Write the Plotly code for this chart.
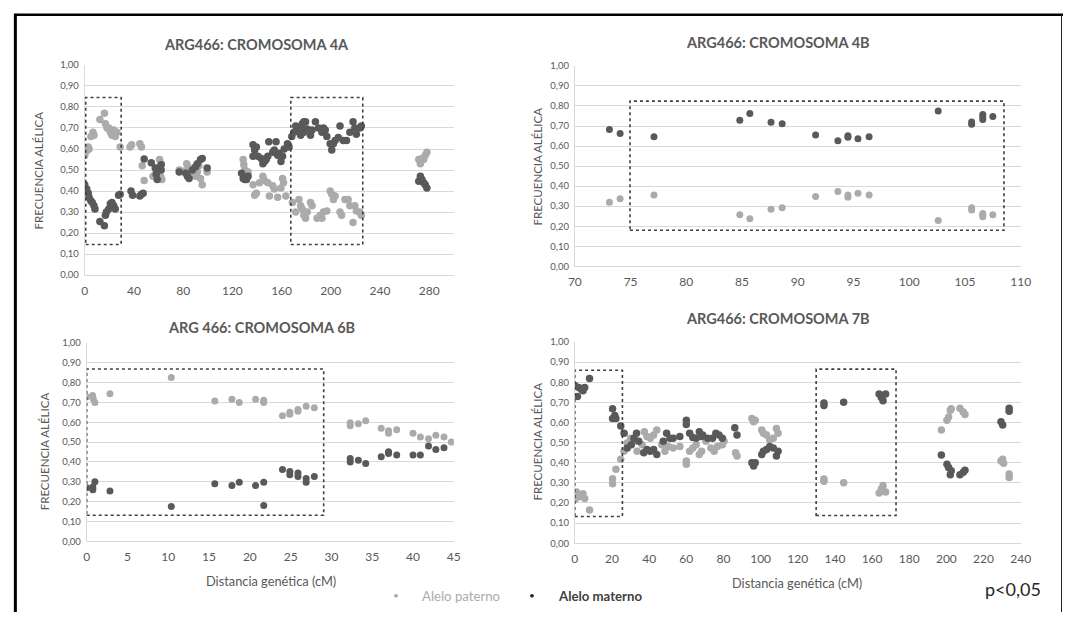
import plotly.graph_objects as go

W, H = 1073, 617

# ---------------- DATA ----------------
# Chromosome 4A
a4_pat_x = [0, 1.5, 2.9, 3.5, 5, 6.7, 7.5, 12.3, 16, 16.8, 18.1, 19.5, 20.8, 22.1, 23.5, 24.8, 26.1, 28.8,
            36.8, 38.1, 44.8, 46.1, 46.7, 48.3, 55.5, 58.1, 59.5, 60.8, 62.1, 62.7, 61.6,
            76.8, 80.8, 82.9, 84, 86.1, 87.5, 90.1, 91.5, 92.8, 94.1, 95.5, 99.5,
            128.8, 129.3, 130.1, 131.5, 132.8,
            136.8, 138.1, 139.5, 142.1, 144.8, 146.1, 148.8, 150.1, 152.8, 154.1, 156.8, 159.5, 160.8, 161.6, 163.5,
            168.8, 171.5, 174.1, 175.5, 176.8, 178.1, 179.5, 180.8, 183.5, 184.8, 188.8, 191.5, 192.8, 194.1, 196.8,
            199.5, 200.8, 203.5, 202.1, 207.5, 208.8, 211.5, 214.1, 215.5, 218.1, 219.5, 220.8, 223.5, 224.8,
            271.5, 272.8, 274.1, 275.5, 276.8, 278.1]
a4_pat_y = [0.57, 0.59, 0.61, 0.60, 0.66, 0.68, 0.665, 0.74, 0.77, 0.72, 0.70, 0.70, 0.68, 0.665, 0.69, 0.66, 0.68, 0.61,
            0.61, 0.62, 0.625, 0.61, 0.52, 0.45, 0.47, 0.49, 0.51, 0.55, 0.53, 0.455, 0.47,
            0.50, 0.495, 0.53, 0.515, 0.49, 0.50, 0.47, 0.49, 0.52, 0.46, 0.43, 0.49,
            0.55, 0.525, 0.50, 0.48, 0.49,
            0.43, 0.38, 0.39, 0.44, 0.47, 0.45, 0.44, 0.377, 0.425, 0.41, 0.37, 0.415, 0.46, 0.44, 0.377,
            0.345, 0.30, 0.36, 0.33, 0.315, 0.285, 0.27, 0.30, 0.345, 0.33, 0.27, 0.285, 0.27, 0.30, 0.305,
            0.40, 0.385, 0.377, 0.36, 0.30, 0.285, 0.36, 0.36, 0.33, 0.25, 0.33, 0.305, 0.30, 0.285,
            0.55, 0.53, 0.555, 0.55, 0.57, 0.585]
a4_mat_x = [0, 1.6, 2.9, 3.5, 4.8, 6.1, 7.5, 8.3, 12.3, 16, 16.8, 17.6, 19.5, 20.8, 22.1, 23.5, 24.8, 27.5, 28.8,
            37.6, 38.9, 44.8, 46.1, 47.5, 48.3, 54.1, 57.3, 58.1, 58.9, 62.1, 62.1,
            76.8, 82.1, 83.5, 84.8, 87.5, 90.1, 91.5, 94.1, 95.5, 99.5,
            127.5, 128.8, 130.1, 131.5, 132.8,
            136.8, 138.1, 139.5, 136.8, 140.8, 143.5, 144.8, 146.1, 147.5, 148.8, 149.6, 152.8, 154.1, 155.5, 156.8,
            158.1, 159.5, 160.8, 162.1, 164.8, 166.1,
            168.3, 170.1, 171.5, 174.1, 175.5, 176.8, 178.1, 179.5, 175.5, 178.1, 180.8, 183.5, 184.8, 187.5, 190.1,
            192.8, 194.1, 195.5, 196.8, 199.5, 200.8, 202.1, 203.5, 206.1, 207.5, 210.1, 212.8, 215.5, 218.1, 219.5,
            220.8, 223.5, 224.8,
            271.5, 272.8, 274.1, 275.5, 276.8, 278.1]
a4_mat_y = [0.43, 0.41, 0.39, 0.37, 0.355, 0.345, 0.33, 0.315, 0.255, 0.235, 0.285, 0.30, 0.315, 0.34, 0.345, 0.33, 0.315, 0.38, 0.385,
            0.40, 0.38, 0.377, 0.385, 0.39, 0.553, 0.535, 0.51, 0.48, 0.455, 0.525, 0.50,
            0.49, 0.485, 0.47, 0.46, 0.50, 0.515, 0.53, 0.55, 0.555, 0.51,
            0.485, 0.46, 0.455, 0.455, 0.47,
            0.62, 0.595, 0.61, 0.565, 0.565, 0.555, 0.53, 0.54, 0.55, 0.565, 0.635, 0.585, 0.595, 0.635, 0.57,
            0.58, 0.54, 0.565, 0.60, 0.625, 0.61,
            0.66, 0.68, 0.71, 0.69, 0.70, 0.72, 0.73, 0.73, 0.665, 0.68, 0.695, 0.665, 0.69, 0.73, 0.70,
            0.68, 0.70, 0.69, 0.66, 0.625, 0.595, 0.625, 0.64, 0.655, 0.71, 0.64, 0.64, 0.68, 0.73, 0.70,
            0.67, 0.70, 0.71,
            0.447, 0.47, 0.455, 0.44, 0.43, 0.415]

# Chromosome 4B
b4_x = [73.1, 74.06, 77.1, 84.8, 85.7, 87.6, 88.6, 91.6, 93.6, 94.5, 94.5, 95.4, 96.4, 102.6, 105.6, 105.6,
        106.6, 106.6, 106.6, 107.5]
b4_mat_y = [0.683, 0.663, 0.647, 0.729, 0.763, 0.719, 0.711, 0.655, 0.627, 0.652, 0.644, 0.636, 0.647, 0.775,
            0.72, 0.709, 0.757, 0.733, 0.745, 0.747]
b4_pat_y = [0.32, 0.337, 0.356, 0.257, 0.237, 0.284, 0.292, 0.348, 0.373, 0.356, 0.345, 0.364, 0.356, 0.229,
            0.292, 0.281, 0.263, 0.247, 0.255, 0.257]

# Chromosome 6B
b6_pat_x = [0, 0.72, 0.8, 1.0, 2.85, 10.37, 15.7, 17.8, 18.7, 20.7, 21.7, 21.7, 24.0, 24.9, 24.9, 25.9, 25.9,
            26.9, 27.9, 32.3, 32.3, 33.3, 34.2, 36.1, 37.0, 37.0, 38.0, 40.0, 40.9, 41.9, 42.8, 43.8, 44.7]
b6_pat_y = [0.727, 0.735, 0.719, 0.70, 0.744, 0.826, 0.707, 0.716, 0.70, 0.716, 0.711, 0.70, 0.633, 0.65, 0.64,
            0.664, 0.656, 0.681, 0.673, 0.598, 0.582, 0.592, 0.607, 0.57, 0.557, 0.545, 0.562, 0.545, 0.526,
            0.517, 0.534, 0.526, 0.50]
b6_mat_x = [0, 0.75, 0.75, 1.0, 2.85, 10.37, 15.7, 17.8, 18.7, 20.7, 21.7, 21.7, 24.0, 24.9, 24.9, 25.9, 25.9,
            26.9, 26.9, 27.9, 32.3, 32.3, 33.3, 34.2, 36.1, 37.0, 37.0, 38.0, 40.0, 40.9, 41.9, 42.8, 43.8]
b6_mat_y = [0.27, 0.273, 0.26, 0.30, 0.253, 0.175, 0.29, 0.281, 0.298, 0.281, 0.298, 0.18, 0.362, 0.352, 0.335,
            0.344, 0.327, 0.317, 0.298, 0.326, 0.417, 0.40, 0.408, 0.392, 0.426, 0.451, 0.443, 0.435, 0.435,
            0.435, 0.48, 0.463, 0.471]

# Chromosome 7B
b7_mat_x = [0, 1.4, 2.1, 3.5, 4.4, 5.3, 7.9, 20.3, 20.3, 21.5, 22.1, 24.7, 26.5,
            28.2, 30.4, 31.8, 33.2, 34.4, 37.1, 38.8, 40.6, 42.4, 44.1, 47.6, 49.4, 51.2, 52.9, 56.5, 60, 60,
            61.8, 63.5, 65.3, 67, 68.2, 68.8, 71.5, 74.1, 75.9, 77.6, 79.4, 86.1, 87.3, 95.3, 96.2, 97.1,
            100.6, 101.5, 103.2, 104.9, 106.8, 108.5, 109.4,
            134.1, 134.1, 144.7, 163.8, 165, 165.9, 167.3,
            197.3, 200.3, 201.2, 202.1, 202.6, 207.3, 209.1, 210, 229.4, 230.3, 233.8, 233.8]
b7_mat_y = [0.784, 0.729, 0.773, 0.765, 0.757, 0.773, 0.818, 0.668, 0.619, 0.635, 0.619, 0.582, 0.546,
            0.473, 0.489, 0.522, 0.546, 0.506, 0.449, 0.465, 0.457, 0.465, 0.441, 0.506, 0.546, 0.522, 0.522,
            0.53, 0.611, 0.59, 0.546, 0.525, 0.522, 0.554, 0.53, 0.538, 0.522, 0.522, 0.546, 0.538, 0.522,
            0.574, 0.538, 0.40, 0.384, 0.40, 0.441, 0.457, 0.465, 0.481, 0.473, 0.433, 0.457,
            0.684, 0.697, 0.70, 0.741, 0.724, 0.708, 0.741,
            0.438, 0.392, 0.376, 0.34, 0.36, 0.34, 0.352, 0.363, 0.603, 0.587, 0.671, 0.655]
b7_pat_x = [0, 0.9, 1.8, 3.2, 4.4, 5.3, 7.9, 20.3, 20.3, 22.1, 24.7, 26.5,
            28.2, 30, 31.8, 33.5, 36.2, 37.4, 38.8, 40.6, 42.4, 44.1, 46.8, 48.5, 50.3, 52.9, 56.5, 60, 60,
            61.8, 63.5, 65.3, 67, 68.2, 70.6, 73.2, 75, 76.8, 79.4, 80.3, 86.5, 87.3, 95.3, 96.2, 97.1,
            100.6, 101.5, 103.2, 104.9, 106.8, 108.5, 109.4,
            134.1, 134.1, 144.7, 163.8, 165, 165.9, 167.3,
            197.3, 200.3, 201.2, 202.1, 202.6, 207.3, 209.1, 210, 229.4, 230.3, 230.8, 233.8, 233.8]
b7_pat_y = [0.217, 0.254, 0.23, 0.237, 0.246, 0.222, 0.165, 0.295, 0.32, 0.368, 0.417, 0.457,
            0.498, 0.522, 0.506, 0.457, 0.489, 0.554, 0.53, 0.522, 0.538, 0.562, 0.489, 0.457, 0.481, 0.473,
            0.481, 0.408, 0.392, 0.457, 0.473, 0.489, 0.441, 0.457, 0.506, 0.473, 0.457, 0.481, 0.489, 0.506,
            0.449, 0.433, 0.619, 0.603, 0.611, 0.562, 0.546, 0.538, 0.514, 0.522, 0.57, 0.546,
            0.319, 0.308, 0.30, 0.25, 0.27, 0.287, 0.254,
            0.562, 0.611, 0.627, 0.66, 0.668, 0.671, 0.652, 0.639, 0.408, 0.417, 0.397, 0.344, 0.327]

titles = ["ARG466: CROMOSOMA 4A", "ARG466: CROMOSOMA 4B", "ARG 466: CROMOSOMA 6B", "ARG466: CROMOSOMA 7B"]
y_ticks = [0.0, 0.1, 0.2, 0.3, 0.4, 0.5, 0.6, 0.7, 0.8, 0.9, 1.0]
x_ticks_4a = [0, 40, 80, 120, 160, 200, 240, 280]
x_ticks_4b = [70, 75, 80, 85, 90, 95, 100, 105, 110]
x_ticks_6b = [0, 5, 10, 15, 20, 25, 30, 35, 40, 45]
x_ticks_7b = [0, 20, 40, 60, 80, 100, 120, 140, 160, 180, 200, 220, 240]
# significance boxes (x0, x1, y0, y1) per panel
boxes_4a = [(0.8, 29.6, 0.146, 0.845), (167.5, 226, 0.146, 0.845)]
boxes_4b = [(74.95, 108.5, 0.18, 0.824)]
boxes_6b = [(0, 29.05, 0.131, 0.868)]
boxes_7b = [(0, 25.6, 0.133, 0.859), (129.9, 172.9, 0.138, 0.865)]

# ---------------- STYLE / LAYOUT ----------------
DARK = "#595959"
GREY = "#ababab"
TXT = "#595959"
FONT = "Lato"

def px_x(p):
    return p / W

def px_y(p):
    return 1 - p / H

# panels in pixel coordinates: (left, right, top, bottom)
panels = [(79, 454, 60, 274), (577, 1030, 61, 265), (81, 454, 343, 545), (577, 1030, 342, 547)]
xranges = [[0, 300], [70, 110], [0, 45], [0, 240]]
xticks = [x_ticks_4a, x_ticks_4b, x_ticks_6b, x_ticks_7b]
data = [(a4_pat_x, a4_pat_y, a4_mat_x, a4_mat_y),
        (b4_x, b4_pat_y, b4_x, b4_mat_y),
        (b6_pat_x, b6_pat_y, b6_mat_x, b6_mat_y),
        (b7_pat_x, b7_pat_y, b7_mat_x, b7_mat_y)]
boxes = [boxes_4a, boxes_4b, boxes_6b, boxes_7b]
msize = [7.5, 7, 7, 7.5]

fig = go.Figure()
layout = dict(width=W, height=H, margin=dict(l=0, r=0, t=0, b=0), paper_bgcolor="white",
              plot_bgcolor="white", separators=",.", showlegend=False,
              font=dict(family=FONT, color=TXT))
shapes = []
annotations = []

for i, (l, r, t, b) in enumerate(panels):
    n = "" if i == 0 else str(i + 1)
    xa, ya = "x" + n, "y" + n
    px, py, mx, my = data[i]
    fig.add_trace(go.Scatter(x=px, y=py, mode="markers", xaxis=xa, yaxis=ya, name="Alelo paterno",
                             marker=dict(color=GREY, size=msize[i], line=dict(width=0))))
    fig.add_trace(go.Scatter(x=mx, y=my, mode="markers", xaxis=xa, yaxis=ya, name="Alelo materno",
                             marker=dict(color=DARK, size=msize[i], line=dict(width=0))))
    layout["xaxis" + n] = dict(domain=[px_x(l), px_x(r)], range=xranges[i], anchor=ya,
                               tickvals=xticks[i], tickfont=dict(size=12, color=TXT),
                               showgrid=False, zeroline=False, showline=True, linecolor="#d9d9d9",
                               linewidth=1, ticks="", ticklabelstandoff=4)
    layout["yaxis" + n] = dict(domain=[px_y(b), px_y(t)], range=[0, 1.0], anchor=xa,
                               tickvals=y_ticks, tickformat=".2f", tickfont=dict(size=9.5, color=TXT),
                               showgrid=True, gridcolor="#d9d9d9", gridwidth=1, zeroline=False,
                               showline=True, linecolor="#d9d9d9", linewidth=1, ticks="",
                               ticklabelstandoff=3)
    for (x0, x1, y0, y1) in boxes[i]:
        shapes.append(dict(type="rect", xref=xa, yref=ya, x0=x0, x1=x1, y0=y0, y1=y1,
                           line=dict(color="#404040", width=1.6, dash="dot"), fillcolor="rgba(0,0,0,0)"))

# titles
title_pos = [(254, 39), (783, 37), (259, 327), (783, 318)]
for t, (x, y) in zip(titles, title_pos):
    annotations.append(dict(text="<b>%s</b>" % t, x=px_x(x), y=px_y(y), xref="paper", yref="paper",
                            showarrow=False, xanchor="center", yanchor="middle",
                            font=dict(size=14.5, color=TXT, family=FONT)))
# y-axis titles
ytitle_pos = [(32, 167), (539, 163), (39, 453), (539, 443)]
for (x, y) in ytitle_pos:
    annotations.append(dict(text="FRECUENCIA ALÉLICA", x=px_x(x), y=px_y(y), xref="paper", yref="paper",
                            showarrow=False, textangle=-90, xanchor="center", yanchor="middle",
                            font=dict(size=11.5, color=TXT, family=FONT)))
# x-axis titles
for (x, y) in [(268, 585), (803, 587)]:
    annotations.append(dict(text="Distancia genética (cM)", x=px_x(x), y=px_y(y), xref="paper", yref="paper",
                            showarrow=False, xanchor="center", yanchor="middle",
                            font=dict(size=12.8, color=TXT, family=FONT)))
# legend (as text)
annotations.append(dict(text="•", x=px_x(395), y=px_y(600), xref="paper", yref="paper", showarrow=False,
                        xanchor="center", yanchor="middle", font=dict(size=10, color=GREY, family=FONT)))
annotations.append(dict(text="Alelo paterno", x=px_x(420), y=px_y(601), xref="paper", yref="paper",
                        showarrow=False, xanchor="left", yanchor="middle",
                        font=dict(size=13.2, color=GREY, family=FONT)))
annotations.append(dict(text="•", x=px_x(533), y=px_y(600), xref="paper", yref="paper", showarrow=False,
                        xanchor="center", yanchor="middle", font=dict(size=10, color="#262626", family=FONT)))
annotations.append(dict(text="<b>Alelo materno</b>", x=px_x(558), y=px_y(601), xref="paper", yref="paper",
                        showarrow=False, xanchor="left", yanchor="middle",
                        font=dict(size=13.2, color="#404040", family=FONT)))
annotations.append(dict(text="p<0,05", x=px_x(1022), y=px_y(594), xref="paper", yref="paper",
                        showarrow=False, xanchor="center", yanchor="middle",
                        font=dict(size=18, color="#262626", family=FONT)))

# outer frame
shapes.append(dict(type="line", xref="paper", yref="paper", x0=px_x(7.5), x1=1, y0=px_y(9), y1=px_y(9),
                   line=dict(color="black", width=2.5)))
shapes.append(dict(type="line", xref="paper", yref="paper", x0=px_x(8.5), x1=px_x(8.5), y0=px_y(8), y1=0,
                   line=dict(color="black", width=3)))
shapes.append(dict(type="line", xref="paper", yref="paper", x0=px_x(1071.5), x1=px_x(1071.5), y0=px_y(9), y1=0,
                   line=dict(color="#222222", width=1)))

layout["shapes"] = shapes
layout["annotations"] = annotations
fig.update_layout(**layout)
fig.write_html("out.html", config={"displayModeBar": False},
               post_script="document.body.style.margin='0';document.body.style.overflow='hidden';"
                           "document.documentElement.style.overflow='hidden';")
